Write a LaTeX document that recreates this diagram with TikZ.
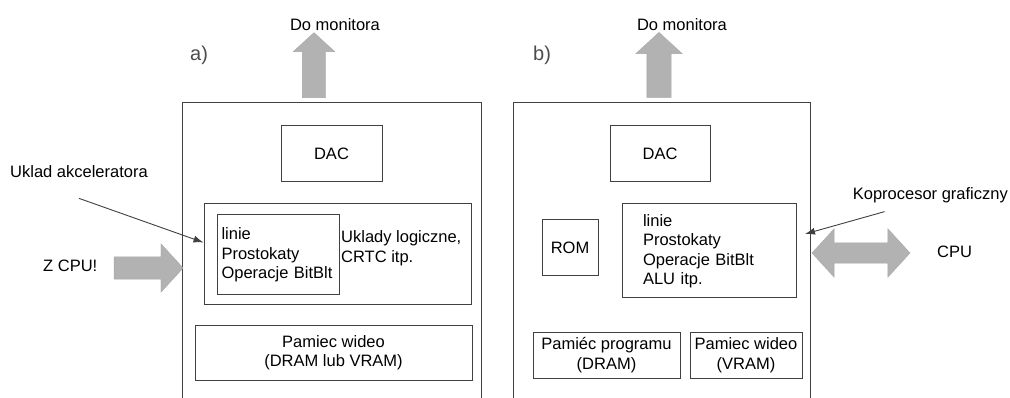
\documentclass[tikz,border=0pt]{standalone}
\usepackage{fontspec}
\setmainfont{Liberation Sans}
\usetikzlibrary{positioning,shapes.arrows,arrows.meta}

\begin{document}
\begin{tikzpicture}[
    x=1pt, y=-1pt,
    every node/.style={font=\fontsize{16.5}{19.5}\selectfont},
    frame/.style={draw=black!75, line width=1pt},
    block/.style={rectangle, draw=black!75, line width=1pt, inner sep=0pt, align=center},
    txt/.style={inner sep=0pt, align=left},
    panel/.style={inner sep=0pt, font=\fontsize{20}{24}\selectfont, text=black!70},
    fatarrow/.style={single arrow, fill=gray!60, draw=gray!70, inner xsep=0pt, single arrow tip angle=95},
    fatdouble/.style={double arrow, fill=gray!60, draw=gray!70, inner xsep=0pt, double arrow tip angle=95},
    pointer/.style={draw=black!75, line width=0.9pt, -{Latex[length=10pt,width=7pt]}}
]
    \useasboundingbox (0,0) rectangle (1010,398);

    % Card a)
    \draw [frame] (182,398) |- (481,103) -- (481,398);
    \node [panel, anchor=west] (labA) at (190,55) {a)};
    \node [block, minimum width=101pt, minimum height=56pt] (dacA) at (331.5,154) {DAC};
    \node [block, minimum width=267pt, minimum height=101pt] (logicA) at (337.5,254.5) {};
    \node [block, minimum width=122pt, minimum height=80pt, align=left, text width=113pt] (accA) at (278,255) {linie\\Prostokaty\\Operacje BitBlt};
    \node [txt, anchor=west] (crtcA) at (341,248) {Uklady logiczne,\\CRTC itp.};
    \node [block, minimum width=277pt, minimum height=55pt] (vramA) at (333.5,352.5) {Pamiec wideo\\(DRAM lub VRAM)};

    % Card b)
    \draw [frame] (513,398) |- (810,103) -- (810,398);
    \node [panel, anchor=west] (labB) at (533,55) {b)};
    \node [block, minimum width=100pt, minimum height=56pt] (dacB) at (660,154) {DAC};
    \node [block, minimum width=56pt, minimum height=56pt] (romB) at (570,248) {ROM};
    \node [block, minimum width=174pt, minimum height=94pt, align=left, text width=132pt] (copB) at (709,251) {linie\\Prostokaty\\Operacje BitBlt\\ALU itp.};
    \node [block, minimum width=147pt, minimum height=46pt] (progB) at (606.5,355) {Pami\'ec programu\\(DRAM)};
    \node [block, minimum width=112pt, minimum height=46pt] (vramB) at (746,355) {Pamiec wideo\\(VRAM)};

    % Outside labels
    \node [txt] (monA) at (335,25) {Do monitora};
    \node [txt] (monB) at (682,25) {Do monitora};
    \node [txt, anchor=base west] (accLabel) at (10,178) {Uklad akceleratora};
    \node [txt, anchor=base west] (cpuA) at (43,272) {Z CPU!};
    \node [txt, anchor=base east] (kopLabel) at (1008,200) {Koprocesor graficzny};
    \node [txt, anchor=base west] (cpuB) at (937,258) {CPU};

    % Fat arrows
    \node [fatarrow, rotate=90, inner ysep=11.5pt, single arrow head extend=9pt, minimum height=65pt] (upA) at (314,70.5) {};
    \node [fatarrow, rotate=90, inner ysep=12pt, single arrow head extend=11pt, minimum height=65pt] (upB) at (659,70.5) {};
    \node [fatarrow, inner ysep=11pt, single arrow head extend=13pt, minimum height=69pt] (inA) at (143.5,268) {};
    \node [fatdouble, inner ysep=10pt, double arrow head extend=14pt, minimum height=98pt] (busB) at (861,253) {};

    % Pointers
    \coordinate (kopTip) at (805,234);
    \draw [pointer] ([yshift=-20pt]accLabel.south) -- ([yshift=12pt]logicA.west);
    \draw [pointer] ([xshift=32pt,yshift=-8pt]kopLabel.south west) -- (kopTip);
\end{tikzpicture}
\end{document}
